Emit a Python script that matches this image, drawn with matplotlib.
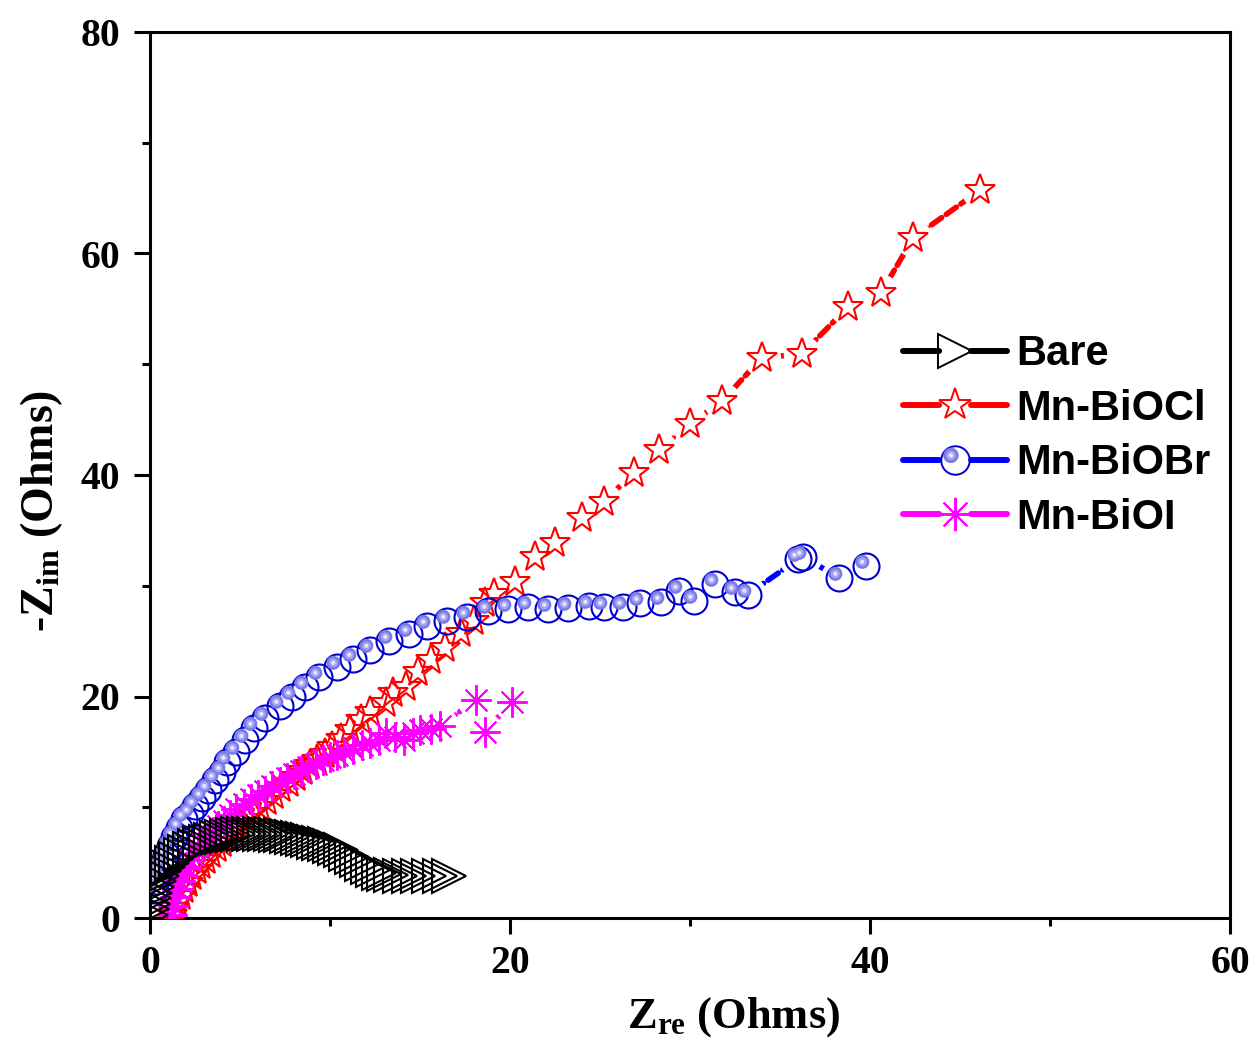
import matplotlib
matplotlib.use("Agg")
import matplotlib.pyplot as plt
from matplotlib.lines import Line2D
from matplotlib.path import Path
from matplotlib.legend_handler import HandlerTuple
from matplotlib.ticker import MultipleLocator

# ---------------- data ----------------
bare_x = [0.05, 0.1, 0.15, 0.2, 0.3, 0.4, 0.5, 0.65, 0.8, 1.0, 1.2, 1.45, 1.7, 1.95, 2.2, 2.5,
          2.8, 3.1, 3.4, 3.7, 4.0, 4.3, 4.6, 4.9, 5.2, 5.5, 5.8, 6.1, 6.4, 6.7, 7.0, 7.3, 7.6,
          7.9, 8.2, 8.5, 8.8, 9.1, 9.4, 9.7, 10.0, 10.3, 10.6, 10.9, 11.2, 11.5, 11.8, 12.1,
          12.4, 12.7, 13.0, 13.4, 13.9, 14.4, 14.9, 15.5, 16.1, 16.6]
bare_y = [0.3, 0.8, 1.3, 1.8, 2.3, 2.8, 3.3, 3.8, 4.2, 4.6, 5.0, 5.35, 5.7, 6.0, 6.25, 6.5,
          6.7, 6.9, 7.05, 7.2, 7.3, 7.4, 7.5, 7.55, 7.6, 7.62, 7.62, 7.6, 7.58, 7.55, 7.5, 7.45,
          7.4, 7.3, 7.2, 7.1, 7.0, 6.9, 6.8, 6.65, 6.5, 6.3, 6.1, 5.8, 5.5, 5.2, 4.9, 4.6,
          4.3, 4.1, 3.95, 3.85, 3.8, 3.8, 3.8, 3.8, 3.8, 3.75]

bioc_x = [1.2, 1.35, 1.5, 1.7, 1.9, 2.1, 2.35, 2.6, 2.85, 3.1, 3.4, 3.7, 4.0, 4.3, 4.65, 5.0,
          5.35, 5.7, 6.1, 6.5, 6.9, 7.3, 7.7, 8.1, 8.5, 8.9, 9.3, 9.7, 10.1, 10.6, 11.1, 11.7,
          12.2, 13.1, 13.5, 14.2, 14.9, 15.6, 16.4, 17.3, 18.0, 18.6, 19.1, 20.3, 21.4, 22.5,
          24.0, 25.2, 26.9, 28.3, 30.0, 31.8, 34.0, 36.2, 38.8, 40.6, 42.4, 46.1]
bioc_y = [0.3, 0.9, 1.4, 2.0, 2.6, 3.2, 3.8, 4.3, 4.75, 5.2, 5.75, 6.3, 6.8, 7.3, 7.85, 8.4,
          8.9, 9.45, 10.0, 10.6, 11.15, 11.7, 12.2, 12.75, 13.25, 13.8, 14.3, 14.85, 15.4, 16.2,
          17.0, 17.9, 18.6, 19.4, 20.3, 20.9, 22.2, 23.3, 24.4, 25.7, 26.8, 28.4, 29.3, 30.3,
          32.6, 33.9, 36.1, 37.6, 40.2, 42.3, 44.6, 46.7, 50.6, 50.9, 55.2, 56.4, 61.4, 65.7]

biobr_x = [0.2, 0.35, 0.5, 0.7, 0.9, 1.1, 1.35, 1.6, 1.9, 2.2, 2.5, 2.9, 3.2, 3.6, 4.0, 4.3,
           4.8, 5.3, 5.8, 6.4, 7.2, 7.9, 8.6, 9.4, 10.4, 11.3, 12.2, 13.3, 14.4, 15.4, 16.5,
           17.6, 18.8, 19.9, 21.0, 22.1, 23.2, 24.4, 25.2, 26.3, 27.2, 28.4, 29.4, 30.2, 31.4,
           32.5, 33.2, 36.0, 36.3, 38.3, 39.8]
biobr_y = [2.5, 3.3, 4.1, 4.9, 5.7, 6.5, 7.3, 8.1, 8.9, 9.4, 10.1, 10.8, 11.6, 12.5, 13.2, 14.1,
           15.0, 16.1, 17.2, 18.1, 19.1, 20.0, 20.9, 21.8, 22.7, 23.4, 24.2, 25.0, 25.6, 26.4,
           26.8, 27.2, 27.7, 27.9, 28.1, 27.9, 28.0, 28.2, 28.1, 28.1, 28.4, 28.5, 29.5, 28.6,
           30.2, 29.4, 29.2, 32.4, 32.6, 30.7, 31.8]

bioi_x = [1.2, 1.3, 1.4, 1.5, 1.65, 1.8, 2.0, 2.2, 2.4, 2.65, 2.9, 3.2, 3.5, 3.8, 4.1, 4.45,
          4.8, 5.2, 5.6, 6.0, 6.4, 6.8, 7.2, 7.6, 8.0, 8.4, 8.8, 9.2, 9.6, 10.0, 10.4, 10.8,
          11.3, 11.8, 12.2, 12.7, 13.1, 13.6, 14.1, 14.6, 15.0, 15.6, 16.1, 18.1, 18.6, 20.1]
bioi_y = [0.3, 1.1, 1.9, 2.6, 3.3, 3.9, 4.6, 5.2, 5.7, 6.3, 6.8, 7.3, 7.8, 8.3, 8.8, 9.3,
          9.8, 10.25, 10.7, 11.1, 11.5, 11.9, 12.3, 12.65, 13.0, 13.3, 13.65, 13.95, 14.25, 14.5,
          14.75, 15.0, 15.3, 15.6, 15.8, 16.1, 16.7, 16.3, 16.1, 16.7, 17.0, 17.1, 17.3, 19.7,
          16.8, 19.5]

labels = ["Bare", "Mn-BiOCl", "Mn-BiOBr", "Mn-BiOI"]
colors = ["#000000", "#ff0000", "#0000ff", "#ff00ff"]

x_ticks = [0, 20, 40, 60]
y_ticks = [0, 20, 40, 60, 80]

# ---------------- style ----------------
plt.rcParams['lines.scale_dashes'] = False
plt.rcParams['mathtext.fontset'] = 'custom'
plt.rcParams['mathtext.rm'] = 'Liberation Serif:bold'
plt.rcParams['mathtext.bf'] = 'Liberation Serif:bold'
plt.rcParams['mathtext.it'] = 'Liberation Serif:bold'

serif = dict(family='Liberation Serif', weight='bold')

fig = plt.figure(figsize=(12.58, 10.48), dpi=100)
fig.patch.set_facecolor('white')
ax = fig.add_axes([150 / 1258, 1 - 918 / 1048, 1080 / 1258, 886 / 1048])

dash = (9, 4)
LW = 4.0

def highlight_marker(cx, cy, r):
    circ = Path.circle((cx, cy), r)
    bound = Path([(0.5, 0.5), (-0.5, -0.5)], [Path.MOVETO, Path.MOVETO])
    return Path.make_compound_path(circ, bound)

hl_layers = [
    (highlight_marker(-0.16, 0.18, 0.27), '#7a7ae6'),
    (highlight_marker(-0.16, 0.18, 0.17), '#a4a4f4'),
    (highlight_marker(-0.16, 0.18, 0.08), '#e6e6ff'),
]

BR_MS = 18.7
series = [
    (bare_x, bare_y, colors[0], '>', 24, 3.4),
    (bioc_x, bioc_y, colors[1], '*', 23, 3.0),
    (biobr_x, biobr_y, '#0000d0', 'o', BR_MS, 3.2),
    (bioi_x, bioi_y, colors[3], (8, 2, 0), 22, 3.1),
]

for (xs, ys, mc, mk, ms, zo), lc in zip(series, colors):
    ax.plot(xs, ys, color=lc, lw=LW, dashes=dash, dash_capstyle='round',
            solid_capstyle='round', zorder=1)
    ax.plot(xs, ys, ls='none', marker='o', ms=27, mfc='white', mec='none', zorder=1.5)

for (xs, ys, mc, mk, ms, zo) in series:
    if mk == (8, 2, 0):
        ax.plot(xs, ys, ls='none', marker=mk, ms=ms, mec=mc, mew=1.4, zorder=zo)
    else:
        ax.plot(xs, ys, ls='none', marker=mk, ms=ms, mfc='none', mec=mc, mew=1.5, zorder=zo)

for i, (pth, c) in enumerate(hl_layers):
    ax.plot(biobr_x, biobr_y, ls='none', marker=pth, ms=BR_MS, mfc=c, mec='none',
            zorder=3.21 + 0.01 * i)

# ---------------- axes ----------------
ax.set_xlim(0, 60)
ax.set_ylim(0, 80)
ax.set_xticks(x_ticks)
ax.set_yticks(y_ticks)
ax.xaxis.set_minor_locator(MultipleLocator(10))
ax.yaxis.set_minor_locator(MultipleLocator(10))
for s in ax.spines.values():
    s.set_linewidth(2.2)
ax.tick_params(which='major', direction='out', length=11.5, width=2.2, top=False, right=False)
ax.tick_params(which='minor', direction='out', length=5.8, width=2.2, top=False, right=False)
ax.tick_params(axis='x', which='major', pad=8)
ax.tick_params(axis='y', which='major', pad=10)
for lab in ax.get_xticklabels() + ax.get_yticklabels():
    lab.set_fontfamily('Liberation Serif')
    lab.set_fontweight('bold')
    lab.set_fontsize(28.5)

ax.set_xlabel(r'$\mathrm{Z_{re}}$ (Ohms)', fontsize=32, **serif)
ax.set_ylabel(r'-$\mathrm{Z_{im}}$ (Ohms)', fontsize=33, **serif)
ax.xaxis.set_label_coords(0.54, -0.087)
ax.yaxis.set_label_coords(-0.079, 0.46)

# ---------------- legend ----------------
leg_dash = (26, 23)
LLW = 4.3
h_bare = Line2D([], [], color=colors[0], lw=LLW, dashes=leg_dash, dash_capstyle='round',
                marker='>', ms=24, mfc='none', mec=colors[0], mew=1.4)
h_cl = Line2D([], [], color=colors[1], lw=LLW, dashes=leg_dash, dash_capstyle='round',
              marker='*', ms=24, mfc='none', mec=colors[1], mew=1.4)
h_br = Line2D([], [], color=colors[2], lw=LLW, dashes=leg_dash, dash_capstyle='round',
              marker='o', ms=20.5, mfc='none', mec='#0000d0', mew=1.4)
h_br_hl = [Line2D([], [], ls='none', marker=p, ms=20.5, mfc=c, mec='none') for p, c in hl_layers]
h_i = Line2D([], [], color=colors[3], lw=LLW, dashes=leg_dash, dash_capstyle='round',
             marker=(8, 2, 0), ms=24, mec=colors[3], mew=1.4)

leg = ax.legend([h_bare, h_cl, tuple([h_br] + h_br_hl), h_i], labels,
                handler_map={tuple: HandlerTuple(ndivide=1, pad=0)},
                loc='upper left', bbox_to_anchor=(0.697, 0.659), frameon=False,
                prop=dict(family='Liberation Sans', weight='bold', size=30),
                handlelength=2.5, handletextpad=0.23, labelspacing=0.35,
                borderpad=0, borderaxespad=0)

fig.savefig('out.png', dpi=100, facecolor='white')
